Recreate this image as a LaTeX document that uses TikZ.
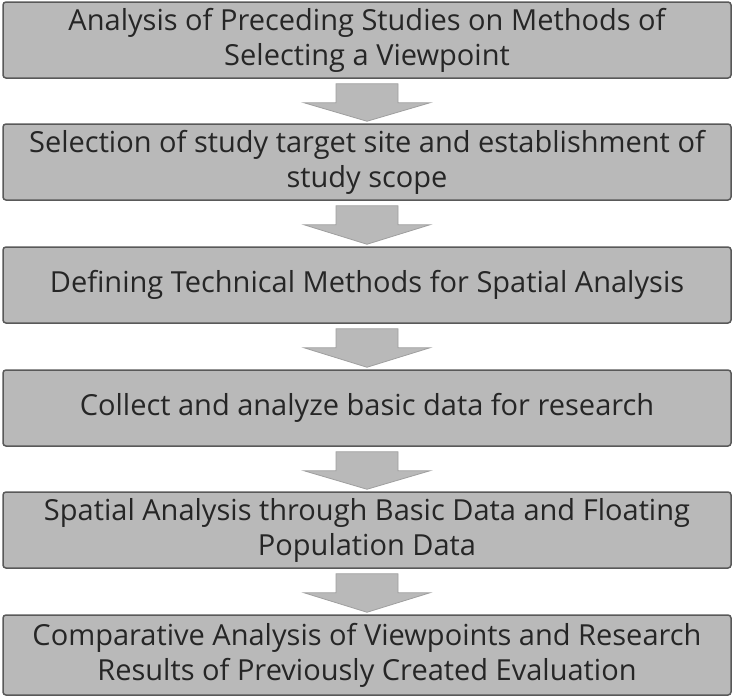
\documentclass[tikz,border=0pt]{standalone}
\usepackage{fontspec}
\setmainfont{Open Sans}
\usetikzlibrary{positioning,calc}
\tikzset{
  stepbox/.style={rectangle, rounded corners=3pt, draw=gray!70!black, line width=1.5pt,
    fill=gray!55, minimum width=728pt, minimum height=76pt, align=center,
    font=\fontsize{29}{35}\selectfont, text=black!85, inner sep=2pt},
  downarrow/.style={draw=gray!75, fill=gray!55, line width=0.8pt},
}
\begin{document}
\begin{tikzpicture}[x=1pt,y=1pt]
  \useasboundingbox (0,0) rectangle (734,-697);
  \node[stepbox] (s1) at (367,-40) {Analysis of Preceding Studies on Methods of\\Selecting a Viewpoint};
  \node[stepbox] (s2) at (367,-162) {Selection of study target site and establishment of\\study scope};
  \node[stepbox] (s3) at (367,-285) {Defining Technical Methods for Spatial Analysis};
  \node[stepbox] (s4) at (367,-408) {Collect and analyze basic data for research};
  \node[stepbox] (s5) at (367,-530) {Spatial Analysis through Basic Data and Floating\\Population Data};
  \node[stepbox, minimum height=80pt] (s6) at (367,-655) {Comparative Analysis of Viewpoints and Research\\Results of Previously Created Evaluation};
  % arrows between steps
  \foreach \a/\b in {s1/s2,s2/s3,s3/s4,s4/s5,s5/s6}
    \draw[downarrow] ($(\a.south)+(-31,-5)$) -- ($(\a.south)+(31,-5)$)
      -- ($(\a.south)+(31,-24)$) -- ($(\a.south)+(63,-24)$)
      -- ($(\b.north)+(0,2)$) -- ($(\a.south)+(-63,-24)$)
      -- ($(\a.south)+(-31,-24)$) -- cycle;
\end{tikzpicture}
\end{document}
